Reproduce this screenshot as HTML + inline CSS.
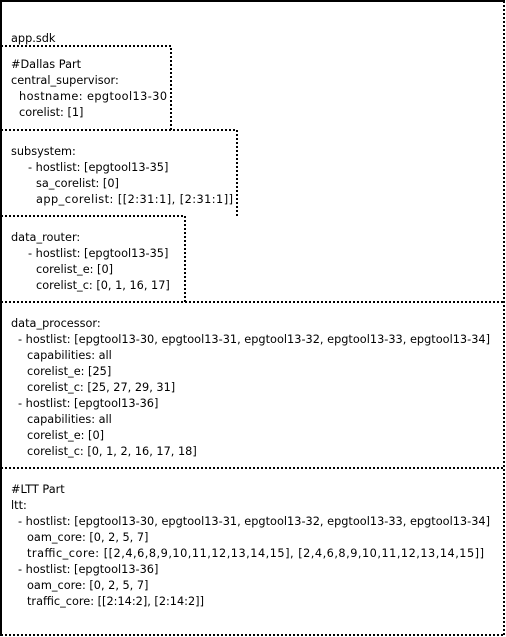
<!DOCTYPE html>
<html><head><style>
html,body{margin:0;padding:0;background:#fff;}
svg{display:block;}
text{font-family:"DejaVu Sans","Liberation Sans",sans-serif;font-size:11.3px;fill:#000;}
</style></head><body>
<svg width="506" height="637" xmlns="http://www.w3.org/2000/svg">
<rect x="0" y="0" width="506" height="637" fill="#fff"/>
<path d="M1,636 V1 H505" fill="none" stroke="#000" stroke-width="2"/>
<g fill="none" stroke="#000" stroke-width="2" stroke-dasharray="2 2">
<path d="M1,46 H171 V130"/>
<path d="M1,130 H237 V216"/>
<path d="M1,216 H185 V302"/>
<path d="M1,302 H504"/>
<path d="M1,468 H504"/>
<path d="M1,635 H504"/>
<path d="M504,1 V635"/>
</g>
<text x="11" y="42">app.sdk</text>
<text x="11" y="68">#Dallas Part</text>
<text x="11" y="84">central_supervisor:</text>
<text x="19" y="100" textLength="148">hostname: epgtool13-30</text>
<text x="19" y="116">corelist: [1]</text>
<text x="11" y="155">subsystem:</text>
<text x="28" y="171">- hostlist: [epgtool13-35]</text>
<text x="36" y="187">sa_corelist: [0]</text>
<text x="36" y="203" textLength="197">app_corelist: [[2:31:1], [2:31:1]]</text>
<text x="11" y="241">data_router:</text>
<text x="28" y="257">- hostlist: [epgtool13-35]</text>
<text x="36" y="273">corelist_e: [0]</text>
<text x="36" y="289">corelist_c: [0, 1, 16, 17]</text>
<text x="11" y="327">data_processor:</text>
<text x="18" y="343" textLength="472">- hostlist: [epgtool13-30, epgtool13-31, epgtool13-32, epgtool13-33, epgtool13-34]</text>
<text x="27" y="359">capabilities: all</text>
<text x="27" y="375">corelist_e: [25]</text>
<text x="27" y="391">corelist_c: [25, 27, 29, 31]</text>
<text x="18" y="407">- hostlist: [epgtool13-36]</text>
<text x="27" y="423">capabilities: all</text>
<text x="27" y="439">corelist_e: [0]</text>
<text x="27" y="455">corelist_c: [0, 1, 2, 16, 17, 18]</text>
<text x="11" y="493">#LTT Part</text>
<text x="11" y="509">ltt:</text>
<text x="18" y="525" textLength="472">- hostlist: [epgtool13-30, epgtool13-31, epgtool13-32, epgtool13-33, epgtool13-34]</text>
<text x="27" y="541">oam_core: [0, 2, 5, 7]</text>
<text x="27" y="557" textLength="457">traffic_core: [[2,4,6,8,9,10,11,12,13,14,15], [2,4,6,8,9,10,11,12,13,14,15]]</text>
<text x="18" y="573">- hostlist: [epgtool13-36]</text>
<text x="27" y="589">oam_core: [0, 2, 5, 7]</text>
<text x="27" y="605">traffic_core: [[2:14:2], [2:14:2]]</text>
</svg>
</body></html>
